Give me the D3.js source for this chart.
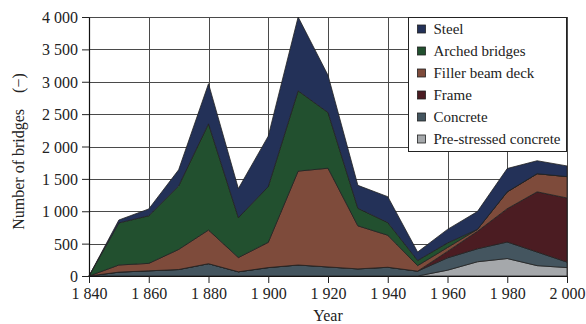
<!DOCTYPE html>
<html>
<head>
<meta charset="utf-8">
<script src="https://cdn.jsdelivr.net/npm/d3@7"></script>
<style>
  body { margin: 0; background: #fff; }
  svg text { font-family: "Liberation Serif", "Times New Roman", "DejaVu Serif", serif; }
</style>
</head>
<body>
<div id="chart"></div>
<script>
const years = [1840, 1850, 1860, 1870, 1880, 1890, 1900, 1910, 1920, 1930, 1940, 1950, 1960, 1970, 1980, 1990, 2000];
const prestressed = [0, 0, 0, 0, 0, 0, 0, 0, 0, 0, 0, 0, 90, 220, 270, 160, 130];
const concrete = [0, 60, 80, 100, 190, 65, 130, 170, 140, 110, 135, 75, 190, 200, 255, 210, 85];
const frame = [0, 0, 0, 0, 0, 0, 0, 0, 0, 0, 0, 0, 100, 270, 515, 930, 990];
const filler = [0, 110, 115, 310, 520, 220, 390, 1450, 1525, 665, 495, 85, 60, 30, 260, 280, 330];
const arched = [0, 650, 735, 980, 1640, 615, 860, 1240, 860, 270, 195, 80, 70, 0, 0, 0, 0];
const steel = [0, 45, 105, 250, 620, 450, 780, 1140, 575, 355, 400, 130, 210, 275, 360, 200, 165];

const seriesNames = ["Pre-stressed concrete", "Concrete", "Frame", "Filler beam deck", "Arched bridges", "Steel"];
const seriesValues = [prestressed, concrete, frame, filler, arched, steel];
const colors = ["#a5a8ab", "#44555f", "#4b1c22", "#7e4b3b", "#22502f", "#233158"];

const xTicks = [1840, 1860, 1880, 1900, 1920, 1940, 1960, 1980, 2000];
const yTicks = [0, 500, 1000, 1500, 2000, 2500, 3000, 3500, 4000];

const width = 586,
  height = 324;
const margin = { top: 17, right: 19, bottom: 48, left: 89 };

const rows = years.map((yr, i) => {
  const r = { year: yr };
  seriesNames.forEach((k, j) => (r[k] = seriesValues[j][i]));
  return r;
});

const stack = d3.stack().keys(seriesNames);
const layers = stack(rows);

const x = d3
  .scaleLinear()
  .domain([1840, 2000])
  .range([margin.left, width - margin.right]);
const y = d3
  .scaleLinear()
  .domain([0, 4000])
  .range([height - margin.bottom, margin.top]);

const fmt = d3.formatLocale({ decimal: ".", thousands: " ", grouping: [3], currency: ["", ""] }).format(",d");

const svg = d3
  .select("#chart")
  .append("svg")
  .attr("width", width)
  .attr("height", height);

// grid
svg
  .append("g")
  .selectAll("line")
  .data(yTicks)
  .enter()
  .append("line")
  .attr("x1", margin.left)
  .attr("x2", width - margin.right)
  .attr("y1", (d) => Math.round(y(d)) + 0.5)
  .attr("y2", (d) => Math.round(y(d)) + 0.5)
  .attr("stroke", "#4a4a4a")
  .attr("stroke-width", 1);
svg
  .append("g")
  .selectAll("line")
  .data(xTicks)
  .enter()
  .append("line")
  .attr("x1", (d) => Math.round(x(d)) + 0.5)
  .attr("x2", (d) => Math.round(x(d)) + 0.5)
  .attr("y1", margin.top)
  .attr("y2", height - margin.bottom)
  .attr("stroke", "#4a4a4a")
  .attr("stroke-width", 1);

// areas
const area = d3
  .area()
  .x((d) => x(d.data.year))
  .y0((d) => y(d[0]))
  .y1((d) => y(d[1]));

svg
  .append("g")
  .selectAll("path")
  .data(layers)
  .enter()
  .append("path")
  .attr("d", area)
  .attr("fill", (d, i) => colors[i])
  .attr("stroke", "#222")
  .attr("stroke-width", 0.8)
  .attr("stroke-linejoin", "round");

// axes
const xAxis = svg
  .append("g")
  .attr("transform", `translate(0,${height - margin.bottom})`)
  .call(d3.axisBottom(x).tickValues(xTicks).tickFormat(fmt).tickSize(7).tickSizeOuter(0));
const yAxis = svg
  .append("g")
  .attr("transform", `translate(${margin.left},0)`)
  .call(d3.axisLeft(y).tickValues(yTicks).tickFormat(fmt).tickSize(7).tickSizeOuter(0));

[xAxis, yAxis].forEach((g) => {
  g.attr("font-family", null);
  g.selectAll("text")
    .attr("font-size", 16)
    .attr("fill", "#222");
  g.selectAll("line").attr("stroke", "#222");
  g.select(".domain").attr("stroke", "#111").attr("stroke-width", 1.2);
});
xAxis.selectAll("text").attr("dy", "0.95em").attr("y", 8);
yAxis.selectAll("text").attr("x", -11).attr("dy", "0.35em");

// axis titles
svg
  .append("text")
  .attr("x", (margin.left + width - margin.right) / 2)
  .attr("y", 321)
  .attr("text-anchor", "middle")
  .attr("font-size", 16)
  .attr("fill", "#222")
  .text("Year");

svg
  .append("text")
  .attr("transform", `translate(24,${(margin.top + height - margin.bottom) / 2 + 5}) rotate(-90)`)
  .attr("text-anchor", "middle")
  .attr("font-size", 16)
  .attr("fill", "#222")
  .text("Number of bridges\u3000(\u2212)");

// legend
const legendItems = seriesNames.map((n, i) => ({ name: n, color: colors[i] })).reverse();
const lg = svg.append("g").attr("transform", "translate(408.5,17.5)");
lg.append("rect")
  .attr("width", 158)
  .attr("height", 134)
  .attr("fill", "#fff")
  .attr("stroke", "#222")
  .attr("stroke-width", 1);
const item = lg
  .selectAll("g")
  .data(legendItems)
  .enter()
  .append("g")
  .attr("transform", (d, i) => `translate(0,${11.5 + i * 22})`);
item
  .append("rect")
  .attr("x", 9)
  .attr("y", -4)
  .attr("width", 8)
  .attr("height", 8)
  .attr("fill", (d) => d.color)
  .attr("stroke", "#222")
  .attr("stroke-width", 0.8);
item
  .append("text")
  .attr("x", 25)
  .attr("dy", "0.35em")
  .attr("font-size", 15)
  .attr("fill", "#222")
  .text((d) => d.name);
</script>
</body>
</html>
